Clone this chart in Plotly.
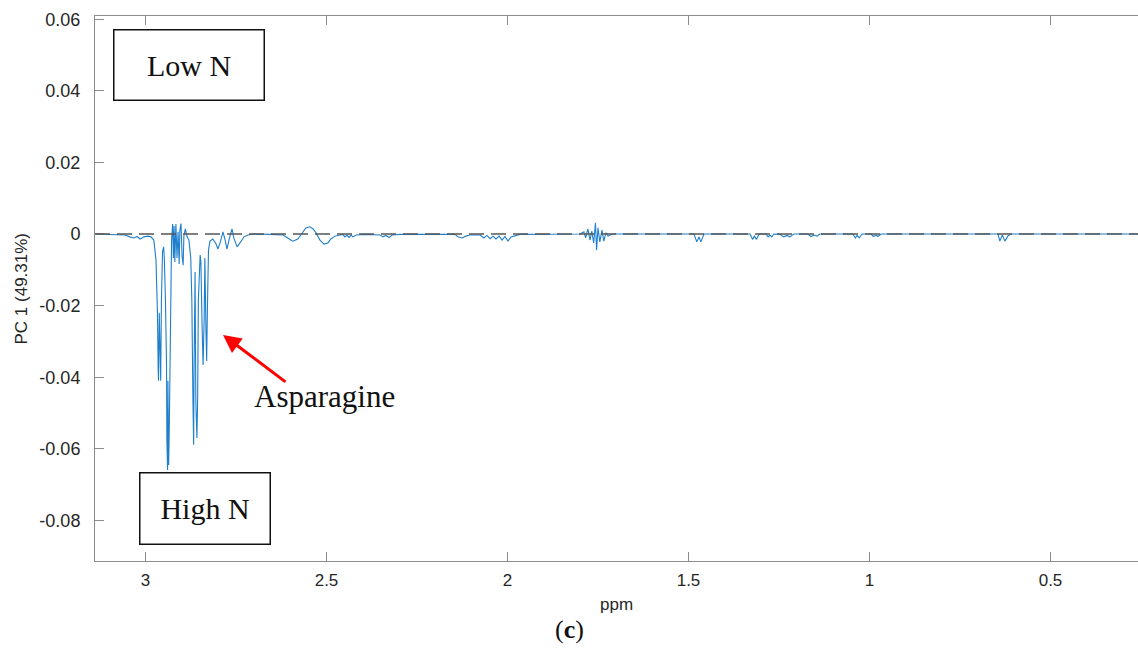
import plotly.graph_objects as go

# ---- data ----
ppm = [
    3.139, 3.098, 3.057, 3.043, 3.032, 3.023, 3.015, 3.004, 2.993, 2.985, 2.977,
    2.971, 2.967, 2.965, 2.964, 2.962, 2.960, 2.958, 2.956, 2.953, 2.950, 2.948,
    2.945, 2.942, 2.941, 2.939, 2.938, 2.936, 2.934, 2.931, 2.928, 2.925, 2.923,
    2.921, 2.919, 2.916, 2.913, 2.910, 2.907, 2.905, 2.902, 2.899, 2.896, 2.894,
    2.890, 2.885, 2.880, 2.875, 2.872, 2.869, 2.867, 2.866, 2.863, 2.861, 2.858,
    2.856, 2.854, 2.849, 2.847, 2.844, 2.841, 2.838, 2.836, 2.833, 2.831, 2.829,
    2.826, 2.822, 2.814, 2.805, 2.800, 2.794, 2.786, 2.780, 2.775, 2.768, 2.761,
    2.756, 2.747, 2.739, 2.728, 2.717, 2.698, 2.656, 2.620, 2.607, 2.593, 2.579,
    2.568, 2.557, 2.546, 2.537, 2.529, 2.518, 2.507, 2.496, 2.488, 2.477, 2.463,
    2.455, 2.449, 2.443, 2.438, 2.432, 2.427, 2.418, 2.394,
    2.352, 2.344, 2.336, 2.327, 2.319, 2.297,
    2.145, 2.137, 2.126, 2.115, 2.104,
    2.076, 2.065, 2.057, 2.048, 2.040, 2.032, 2.023, 2.015, 2.007, 1.999, 1.990,
    1.982, 1.966,
    1.800, 1.789, 1.784, 1.778, 1.772, 1.767, 1.762, 1.757, 1.754, 1.750, 1.745,
    1.739, 1.734, 1.728, 1.722, 1.711,
    1.485, 1.477, 1.471, 1.466, 1.457,
    1.330, 1.323, 1.318, 1.312, 1.305,
    1.286, 1.280, 1.275, 1.270, 1.264,
    1.248, 1.237, 1.228, 1.220, 1.209,
    1.170, 1.162, 1.153, 1.145, 1.137,
    1.046, 1.039, 1.034, 1.028, 1.021,
    0.996, 0.989, 0.982, 0.977, 0.968,
    0.645, 0.640, 0.633, 0.626, 0.618, 0.609,
    0.258,
]
pc1 = [
    0.0, -0.0001, -0.0003, -0.0008, -0.0011, -0.0007, -0.0014, -0.0008, -0.0006, -0.0008, -0.0017,
    -0.0073, -0.022, -0.0377, -0.041, -0.022, -0.040, -0.041, -0.0184, -0.005, -0.0036, -0.0067,
    -0.018, -0.0357, -0.0575, -0.0659, -0.041, -0.0645, -0.052, -0.0184, -0.0017, 0.0028, -0.0067,
    0.0022, -0.0078, 0.0028, -0.0067, 0.0006, -0.0084, 0.0011, 0.0029, -0.0061, -0.0087, -0.0006,
    0.0014, -0.0008, -0.0017, -0.0067, -0.0184, -0.0464, -0.0589, -0.0385, -0.0106, -0.0464, -0.057,
    -0.0464, -0.0184, -0.0059, -0.0078, -0.024, -0.0366, -0.024, -0.0067, -0.0268, -0.0355, -0.0212,
    -0.0045, -0.002, -0.0014, -0.0028, -0.0042, -0.0025, 0.0006, -0.0017, -0.0042, -0.0011, 0.0014,
    -0.0011, -0.0036, -0.0025, -0.0008, -0.0003, 0.0, -0.0001, -0.0003, -0.0011, -0.002, -0.0014,
    0.0003, 0.0017, 0.002, 0.0014, 0.0003, -0.0017, -0.0028, -0.0025, -0.0014, -0.0006, -0.0003,
    -0.0001, -0.0008, -0.0003, -0.001, -0.0003, -0.0008, -0.0003, -0.0001,
    -0.0003, -0.0008, -0.0004, -0.001, -0.0003, -0.0001,
    -0.0001, -0.0008, -0.0011, -0.0006, -0.0003,
    -0.0003, -0.0011, -0.0004, -0.0013, -0.0006, -0.0014, -0.0006, -0.0017, -0.0007, -0.002, -0.0008,
    -0.0006, -0.0001,
    0.0, 0.0006, -0.0011, 0.0014, -0.0017, 0.0008, -0.0025, 0.0031, -0.0045, 0.0017, -0.0022,
    0.0011, -0.002, 0.0003, -0.0006, 0.0,
    0.0, -0.0022, -0.0008, -0.0022, 0.0,
    0.0, -0.0015, -0.0006, -0.0015, 0.0,
    0.0, -0.0008, -0.0003, -0.0008, 0.0,
    -0.0001, -0.0008, -0.0004, -0.0008, 0.0,
    0.0, -0.0007, -0.0003, -0.0006, 0.0,
    0.0, -0.0011, -0.0004, -0.0011, 0.0,
    0.0, -0.0007, -0.0003, -0.0007, 0.0,
    0.0, -0.002, -0.0003, -0.002, -0.0006, 0.0,
    0.0,
]

x_tickvals = [3, 2.5, 2, 1.5, 1, 0.5]
x_ticktext = ["3", "2.5", "2", "1.5", "1", "0.5"]
y_tickvals = [0.06, 0.04, 0.02, 0, -0.02, -0.04, -0.06, -0.08]
y_ticktext = ["0.06", "0.04", "0.02", "0", "-0.02", "-0.04", "-0.06", "-0.08"]

x_range = [3.1395, 0.2583]
y_range = [-0.09134, 0.06089]

SERIF = "Liberation Serif, Times New Roman, serif"
SANS = "Liberation Sans, Arial, sans-serif"

fig = go.Figure()
fig.add_trace(go.Scatter(
    x=ppm, y=pc1, mode="lines",
    line=dict(color="#1f7fcc", width=1.1),
    hoverinfo="skip", showlegend=False,
))

# zero reference line (dashed)
fig.add_shape(type="line", xref="paper", yref="y", x0=0, x1=1, y0=0, y1=0,
              line=dict(color="#555555", width=1.5, dash="15px,7px"), layer="above")

annotations = [
    # boxed labels
    dict(x=2.881, y=0.04734, xref="x", yref="y", text="Low N", showarrow=False,
         font=dict(family=SERIF, size=30, color="#111111"),
         bordercolor="#111111", borderwidth=1.5, borderpad=0, bgcolor="white",
         width=149, height=69, xanchor="center", yanchor="middle"),
    dict(x=2.837, y=-0.07654, xref="x", yref="y", text="High N", showarrow=False,
         font=dict(family=SERIF, size=30, color="#111111"),
         bordercolor="#111111", borderwidth=1.5, borderpad=0, bgcolor="white",
         width=129, height=70, xanchor="center", yanchor="middle"),
    # arrow
    dict(x=2.786, y=-0.0282, xref="x", yref="y", text="", showarrow=True,
         ax=64, ay=48, arrowcolor="#FF0000", arrowwidth=3, arrowhead=2, arrowsize=1.2,
         standoff=0, startstandoff=0),
    dict(x=2.505, y=-0.0455, xref="x", yref="y", text="Asparagine", showarrow=False,
         font=dict(family=SERIF, size=31, color="#111111"), xanchor="center", yanchor="middle"),
    # axis titles
    dict(x=0.5, y=-0.0789, xref="paper", yref="paper", text="ppm", showarrow=False,
         font=dict(family=SANS, size=17, color="#262626"), xanchor="center", yanchor="middle"),
    dict(x=-0.07, y=0.5, xref="paper", yref="paper", text="PC 1 (49.31%)", showarrow=False,
         textangle=-90, font=dict(family=SANS, size=17, color="#262626"),
         xanchor="center", yanchor="middle"),
    dict(x=0.4545, y=-0.1266, xref="paper", yref="paper", text="(<b>c</b>)", showarrow=False,
         font=dict(family=SERIF, size=26, color="#111111"), xanchor="center", yanchor="middle"),
]

fig.update_layout(
    width=1138, height=652, autosize=False,
    margin=dict(l=95, r=0, t=16, b=91, pad=0),
    paper_bgcolor="white", plot_bgcolor="white",
    annotations=annotations,
    xaxis=dict(
        range=x_range, tickvals=x_tickvals, ticktext=x_ticktext,
        showgrid=False, zeroline=False, showline=True, linecolor="#8c8c8c", linewidth=1,
        mirror="ticks", ticks="inside", ticklen=9, tickcolor="#8c8c8c", tickwidth=1,
        tickfont=dict(family=SANS, size=17, color="#262626"), ticklabelstandoff=4,
    ),
    yaxis=dict(
        range=y_range, tickvals=y_tickvals, ticktext=y_ticktext,
        showgrid=False, zeroline=False, showline=True, linecolor="#8c8c8c", linewidth=1,
        mirror=False, ticks="inside", ticklen=9, tickcolor="#8c8c8c", tickwidth=1,
        tickfont=dict(family=SANS, size=18, color="#262626"), ticklabelstandoff=10,
    ),
)

fig.write_html("out.html")
